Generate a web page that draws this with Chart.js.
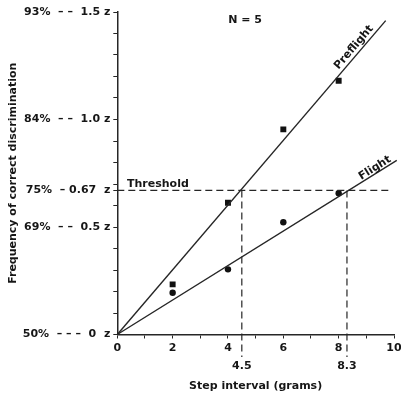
<!DOCTYPE html>
<html>
<head>
<meta charset="utf-8">
<script src="https://cdn.jsdelivr.net/npm/chart.js@4.4.1/dist/chart.umd.min.js"></script>
<style>
html,body{margin:0;padding:0;background:#fff;}
#wrap{width:401px;height:396px;}
</style>
</head>
<body>
<div id="wrap"><canvas id="c" width="401" height="396"></canvas></div>
<script>
// ---- data ----
const stepX = [2, 4, 6, 8];
const preflightZ = [0.233, 0.613, 0.954, 1.180];
const flightZ = [0.194, 0.303, 0.522, 0.657];
const preflightFitX = [0, 9.7];
const preflightFitZ = [0, 1.46];
const flightFitX = [0, 10.1];
const flightFitZ = [0, 0.81];
const thresholdZ = 0.67;
const thresholdLineX = [0, 9.9];
const thresholdCrossX = [4.5, 8.3];
const thresholdCrossLabels = ['4.5', '8.3'];
const yTickValues = [0,0.1,0.2,0.3,0.4,0.5,0.6,0.67,0.7,0.8,0.9,1.0,1.1,1.2,1.3,1.4,1.5];
const yTickLabelValues = [0, 0.5, 0.67, 1.0, 1.5];
const yTickLabelTexts = ['50%  – – –  0  z', '69%  – –  0.5 z', '75%  – 0.67  z', '84%  – –  1.0 z', '93%  – –  1.5 z'];
const xTickValues = [0,1,2,3,4,5,6,7,8,9,10];
const xTickLabelValues = [0, 2, 4, 6, 8, 10];

const INK = '#161616';
const LINE = '#262626';
const FONT = 'bold 11px "DejaVu Sans"';

function pts(xs, ys){ return xs.map((x,i)=>({x:x, y:ys[i]})); }

const annot = {
  id: 'annot',
  afterDatasetsDraw(chart){
    const ctx = chart.ctx, xs = chart.scales.x, ys = chart.scales.y;
    ctx.save();
    ctx.fillStyle = INK;
    ctx.font = FONT;
    ctx.textBaseline = 'middle';
    ctx.textAlign = 'center';
    ctx.fillText('N = 5', xs.getPixelForValue(4.62), ys.getPixelForValue(1.463));
    ctx.textAlign = 'left';
    ctx.fillText('Threshold', xs.getPixelForValue(0.35), ys.getPixelForValue(0.70));
    ctx.textAlign = 'center';
    thresholdCrossX.forEach((v,i)=>{
      ctx.fillText(thresholdCrossLabels[i], xs.getPixelForValue(v), ys.getPixelForValue(-0.147));
    });
    function rotLabel(text, fx, fz, x0, z0, x1, z1){
      const ang = Math.atan2(ys.getPixelForValue(z1)-ys.getPixelForValue(z0), xs.getPixelForValue(x1)-xs.getPixelForValue(x0));
      ctx.save();
      ctx.translate(xs.getPixelForValue(fx), ys.getPixelForValue(fz));
      ctx.rotate(ang);
      ctx.textAlign = 'center';
      ctx.fillText(text, 0, 0);
      ctx.restore();
    }
    rotLabel('Preflight', 8.55, 1.335, preflightFitX[0], preflightFitZ[0], preflightFitX[1], preflightFitZ[1]);
    rotLabel('Flight', 9.31, 0.774, flightFitX[0], flightFitZ[0], flightFitX[1], flightFitZ[1]);
    ctx.restore();
  }
};

const dashed = [7, 4];
const datasets = [
  {label:'Preflight fit', data: pts(preflightFitX, preflightFitZ), showLine:true, borderColor:LINE, borderWidth:1.4, pointRadius:0, clip:false},
  {label:'Flight fit', data: pts(flightFitX, flightFitZ), showLine:true, borderColor:LINE, borderWidth:1.4, pointRadius:0, clip:false},
  {label:'Threshold', data: pts(thresholdLineX, [thresholdZ, thresholdZ]), showLine:true, borderColor:LINE, borderWidth:1.2, borderDash:dashed, pointRadius:0, clip:false},
  {label:'x4.5', data: [{x:thresholdCrossX[0], y:thresholdZ},{x:thresholdCrossX[0], y:-0.105}], showLine:true, borderColor:LINE, borderWidth:1.2, borderDash:dashed, pointRadius:0, clip:false},
  {label:'x8.3', data: [{x:thresholdCrossX[1], y:thresholdZ},{x:thresholdCrossX[1], y:-0.105}], showLine:true, borderColor:LINE, borderWidth:1.2, borderDash:dashed, pointRadius:0, clip:false},
  {label:'Preflight', data: pts(stepX, preflightZ), pointStyle:'rect', pointRadius:4.2, backgroundColor:'#111', borderColor:'#111', borderWidth:0, showLine:false},
  {label:'Flight', data: pts(stepX, flightZ), pointStyle:'circle', pointRadius:3.2, backgroundColor:'#111', borderColor:'#111', borderWidth:0, showLine:false}
];

new Chart(document.getElementById('c'), {
  type: 'scatter',
  data: {datasets},
  plugins: [annot],
  options: {
    responsive: false,
    animation: false,
    events: [],
    layout: {padding: {left: 0, right: 0, top: 12, bottom: 0}},
    plugins: {legend:{display:false}, tooltip:{enabled:false}},
    scales: {
      x: {
        type: 'linear', min: 0, max: 10,
        afterBuildTicks(s){ s.ticks = xTickValues.map(v=>({value:v})); },
        afterFit(s){ s.height = 61.5; s.paddingRight = 7; s.paddingLeft = 0; },
        ticks: {autoSkip:false, maxRotation:0, padding:3, color:INK, font:{family:'DejaVu Sans', size:11, weight:'bold'},
          callback(v){ return xTickLabelValues.includes(v) ? String(v) : ''; }},
        grid: {drawOnChartArea:false, drawTicks:true, tickLength:4, color:LINE, lineWidth:1},
        border: {display:true, color:LINE, width:1.5},
        title: {display:true, text:'Step interval (grams)', color:INK, font:{family:'DejaVu Sans', size:11, weight:'bold'}, padding:{top:0, bottom:3.4}}
      },
      y: {
        type: 'linear', min: 0, max: 1.5,
        afterBuildTicks(s){ s.ticks = yTickValues.map(v=>({value:v})); },
        afterFit(s){ s.width = 117.3; },
        ticks: {autoSkip:false, padding:3, color:INK, font:{family:'DejaVu Sans', size:11, weight:'bold'},
          callback(v){ const i = yTickLabelValues.findIndex(t=>Math.abs(t-v)<1e-6); return i>=0 ? yTickLabelTexts[i] : ''; }},
        grid: {drawOnChartArea:false, drawTicks:true, tickLength:4, color:LINE, lineWidth:1},
        border: {display:true, color:LINE, width:1.5},
        title: {display:true, text:'Frequency of correct discrimination', color:INK, font:{family:'DejaVu Sans', size:11, weight:'bold'}, padding:{top:6.4, bottom:0}}
      }
    }
  }
});
</script>
</body>
</html>
